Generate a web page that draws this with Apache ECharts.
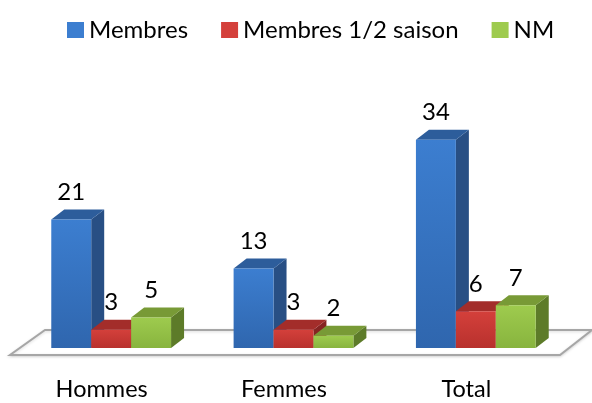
<!DOCTYPE html>
<html>
<head>
<meta charset="utf-8">
<script src="https://cdn.jsdelivr.net/npm/echarts@6/dist/echarts.min.js"></script>
<style>
    html, body { margin: 0; padding: 0; background: #fff; }
    #main { width: 592px; height: 403px; }
</style>
</head>
<body>
<div id="main"></div>
<script>
// categories and values
var categories = ["Hommes", "Femmes", "Total"];
var seriesNames = ["Membres", "Membres 1/2 saison", "NM"];
var membres = [21, 13, 34];
var demiSaison = [3, 3, 6];
var nm = [5, 2, 7];

// colours of each face: front top, front bottom, side, top
var faces = [
    { front1: "#3c7ed0", front2: "#2f66ae", side: "#284f84", top: "#2d5d9b" },
    { front1: "#d4403b", front2: "#b8312d", side: "#862422", top: "#a32d2a" },
    { front1: "#9ecb4e", front2: "#88b43e", side: "#5d7b29", top: "#789a36" }
];

// depth of the fake 3d
var DX = 13;
var DY = 10;
var FONT = "Lato, 'Open Sans', sans-serif";

var myChart = echarts.init(document.getElementById("main"));

// floor drawn under the bars, from the grid rectangle
function renderFloor(params, api) {
    var cs = params.coordSys;
    var base = api.coord([0, 0]);
    var y0 = base[1];
    var gl = cs.x;
    var gr = cs.x + cs.width;
    return {
        type: "polygon",
        shape: {
            points: [
                [gl - 10, y0 + 7],
                [gr - 7, y0 + 7],
                [gr + 25, y0 - 18],
                [gl + 25, y0 - 18]
            ]
        },
        style: {
            fill: "#ffffff",
            stroke: "#a6a6a6",
            lineWidth: 2,
            shadowBlur: 3,
            shadowColor: "rgba(0,0,0,0.15)",
            shadowOffsetY: 1
        }
    };
}

function makeRender(s) {
    var f = faces[s];
    return function (params, api) {
        var cat = api.value(0);
        var val = api.value(1);
        var c = api.coord([cat, val]);
        var base = api.coord([cat, 0]);
        var band = api.size([1, 0])[0];
        var w = band * 0.219;
        var x0 = c[0] - 1.5 * w + s * w;
        var yt = c[1];
        var yb = base[1];
        return {
            type: "group",
            children: [
                {
                    type: "polygon",
                    shape: { points: [[x0 + w, yt], [x0 + w + DX, yt - DY], [x0 + w + DX, yb - DY], [x0 + w, yb]] },
                    style: { fill: f.side }
                },
                {
                    type: "polygon",
                    shape: { points: [[x0, yt], [x0 + DX, yt - DY], [x0 + w + DX, yt - DY], [x0 + w, yt]] },
                    style: { fill: f.top }
                },
                {
                    type: "rect",
                    shape: { x: x0, y: yt, width: w, height: yb - yt },
                    style: {
                        fill: new echarts.graphic.LinearGradient(0, 0, 0, 1, [
                            { offset: 0, color: f.front1 },
                            { offset: 1, color: f.front2 }
                        ])
                    }
                },
                {
                    type: "text",
                    style: {
                        text: String(val),
                        x: x0 + w / 2,
                        y: yt - DY - 5,
                        align: "center",
                        verticalAlign: "bottom",
                        fill: "#000",
                        font: "24px " + FONT
                    }
                }
            ]
        };
    };
}

function toData(arr) {
    return arr.map(function (v, i) { return [i, v]; });
}

var allValues = [membres, demiSaison, nm];

var option = {
    animation: false,
    legend: {
        left: 62,
        top: 12,
        itemWidth: 17,
        itemHeight: 16,
        itemGap: 33,
        icon: "rect",
        data: seriesNames,
        textStyle: {
            fontFamily: FONT,
            fontSize: 24,
            color: "#000",
            lineHeight: 26
        }
    },
    grid: {
        left: 20,
        right: 25,
        top: 103,
        bottom: 55
    },
    xAxis: {
        type: "category",
        data: categories,
        axisLine: { show: false },
        axisTick: { show: false },
        axisLabel: {
            fontFamily: FONT,
            fontSize: 23.5,
            color: "#000",
            margin: 29,
            padding: [0, 19, 0, 0]
        }
    },
    yAxis: {
        type: "value",
        min: 0,
        max: 40,
        show: false
    },
    series: [
        {
            name: "floor",
            type: "custom",
            z: 1,
            silent: true,
            renderItem: renderFloor,
            data: [[0, 0]]
        }
    ]
};

seriesNames.forEach(function (name, s) {
    option.series.push({
        name: name,
        type: "custom",
        z: 2 + s,
        itemStyle: { color: faces[s].front1 },
        renderItem: makeRender(s),
        data: toData(allValues[s])
    });
});

myChart.setOption(option);
</script>
</body>
</html>
